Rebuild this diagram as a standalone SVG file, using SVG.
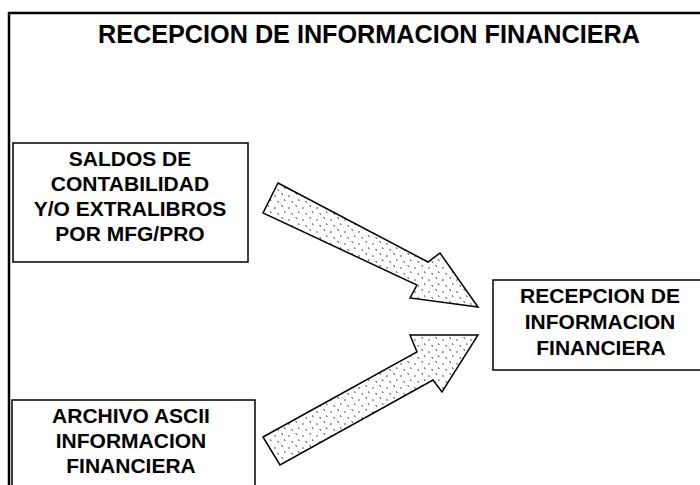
<svg xmlns="http://www.w3.org/2000/svg" width="700" height="485" viewBox="0 0 700 485">
<style>
.box{fill:#fff;stroke:#000;stroke-width:1.5}
.frame{fill:none;stroke:#000;stroke-width:2.5}
.t{font-family:"Liberation Sans",Arial,sans-serif;font-weight:bold;font-size:21px;fill:#000;text-anchor:middle}
.title{font-family:"Liberation Sans",Arial,sans-serif;font-weight:bold;font-size:25px;fill:#000;text-anchor:middle}
.arrow{fill:url(#dither);stroke:#000;stroke-width:1.5;stroke-linejoin:miter}
</style>
<defs>
<pattern id="dither" width="14" height="12" patternUnits="userSpaceOnUse">
<rect width="14" height="12" fill="#fff"/>
<rect x="1" y="1" width="2" height="1" fill="#999"/>
<rect x="2" y="2" width="1" height="1" fill="#777"/>
<rect x="8" y="3" width="2" height="2" fill="#aaa"/>
<rect x="4" y="7" width="1" height="2" fill="#888"/>
<rect x="5" y="8" width="1" height="1" fill="#aaa"/>
<rect x="11" y="9" width="2" height="1" fill="#999"/>
<rect x="12" y="10" width="1" height="1" fill="#777"/>
</pattern>
</defs>
<g id="frame">
<polyline class="frame" points="9,485 9,13 700,13"/>
</g>
<g id="title">
<text class="title" x="369" y="43" textLength="542" lengthAdjust="spacingAndGlyphs">RECEPCION DE INFORMACION FINANCIERA</text>
</g>
<g id="connectors">
<polygon class="arrow" points="278,183 428,262 440,253 478,307 410,298 417,285 263,213"/>
<polygon class="arrow" points="263,437 417,352 410,335 478,335 442,392 433,380 280,465"/>
</g>
<g id="saldos">
<rect class="box" x="13" y="143" width="235" height="119"/>
<text class="t" x="130" y="166">SALDOS DE</text>
<text class="t" x="130" y="191">CONTABILIDAD</text>
<text class="t" x="130" y="216">Y/O EXTRALIBROS</text>
<text class="t" x="130" y="241">POR MFG/PRO</text>
</g>
<g id="archivo">
<polyline class="box" points="12,486 12,400 255,400 255,486"/>
<text class="t" x="131" y="423">ARCHIVO ASCII</text>
<text class="t" x="131" y="448">INFORMACION</text>
<text class="t" x="131" y="473">FINANCIERA</text>
</g>
<g id="recepcion">
<rect class="box" x="493" y="280" width="210" height="90"/>
<text class="t" x="600" y="303">RECEPCION DE</text>
<text class="t" x="600" y="329">INFORMACION</text>
<text class="t" x="601" y="355">FINANCIERA</text>
</g>
</svg>
